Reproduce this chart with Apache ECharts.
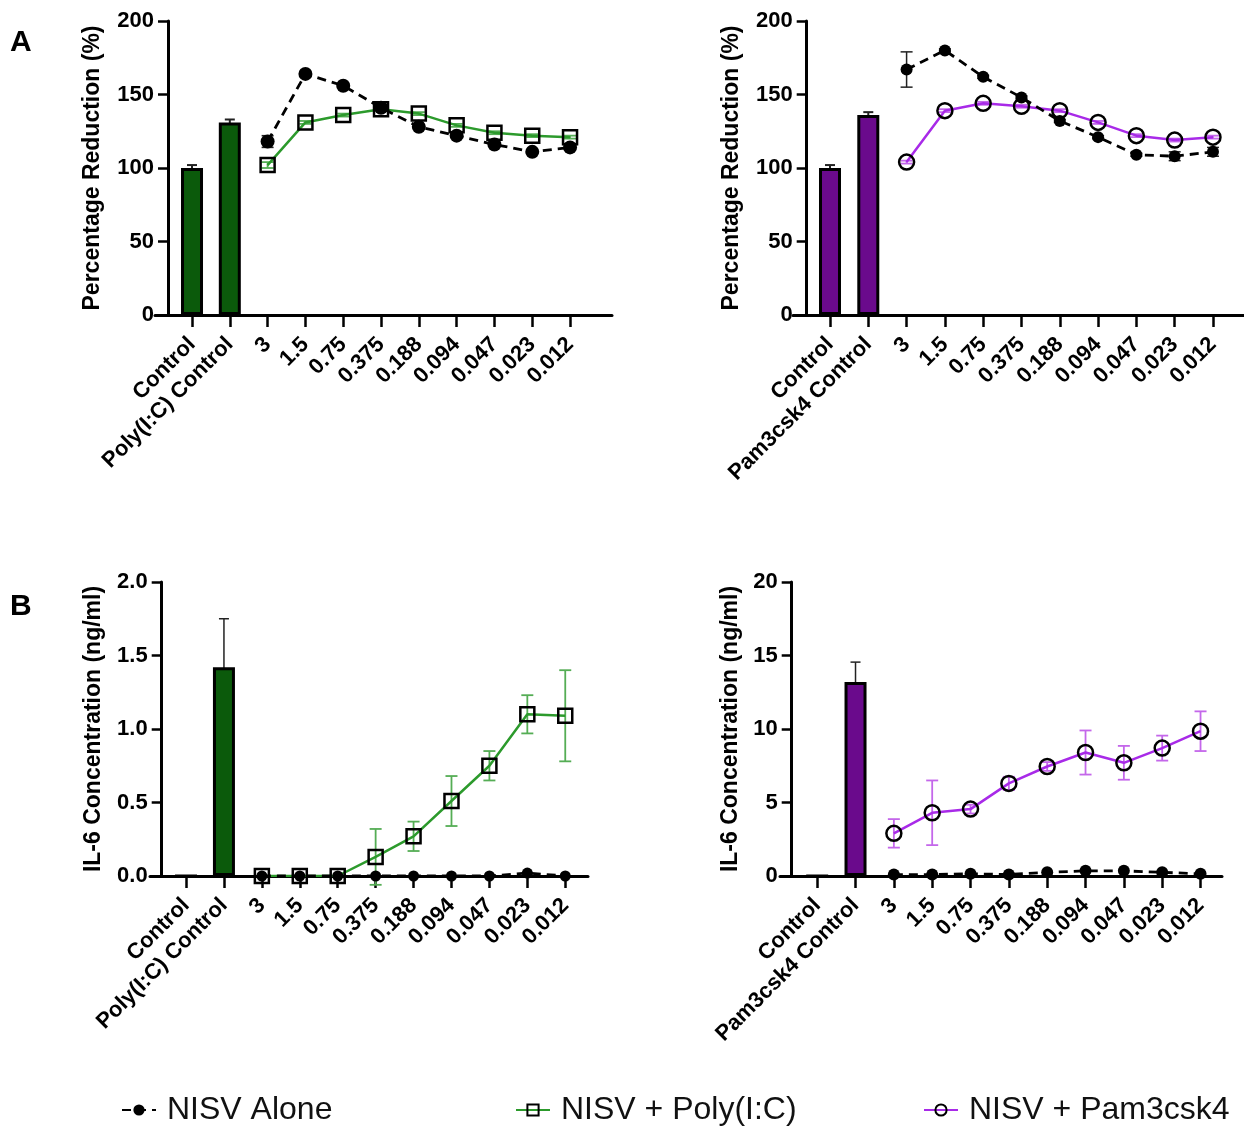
<!DOCTYPE html>
<html><head><meta charset="utf-8">
<script src="https://cdn.jsdelivr.net/npm/echarts@6/dist/echarts.min.js"></script>
<style>html,body{margin:0;padding:0;background:#fff}#c{width:1244px;height:1126px}</style>
</head><body><div id="c"></div>
<script>
// ---------- DATA ----------
const doseLabels = ['3','1.5','0.75','0.375','0.188','0.094','0.047','0.023','0.012'];
const polyCats = ['Control','Poly(I:C) Control'].concat(doseLabels);
const pamCats = ['Control','Pam3csk4 Control'].concat(doseLabels);

// Panel A left (Percentage Reduction, Poly(I:C))
const aPolyBars = [100, 131];
const aPolyBarsErr = [2, 2];
const aPolyAlone = [118, 164, 156, 141, 128, 122, 116, 111, 114];
const aPolyAloneErr = [4, 1, 1, 2, 1, 1, 1, 1, 1];
const aPolyMix = [102, 131, 136, 140, 137, 129, 124, 122, 121];
const aPolyMixErr = [2, 1, 1, 1, 1, 1, 1, 1, 1];

// Panel A right (Percentage Reduction, Pam3csk4)
const aPamBars = [100, 136];
const aPamBarsErr = [2, 2];
const aPamAlone = [167, 180, 162, 148, 132, 121, 109, 108, 111];
const aPamAloneErr = [12, 1, 1, 1, 1, 1, 1, 3, 3];
const aPamMix = [104, 139, 144, 142, 139, 131, 122, 119, 121];
const aPamMixErr = [1, 1, 1, 1, 1, 1, 1, 1, 1];

// Panel B left (IL-6, Poly(I:C))
const bPolyBars = [0, 1.42];
const bPolyBarsErr = [0, 0.33];
const bPolyAlone = [0, 0, 0, 0, 0, 0, 0, 0.02, 0];
const bPolyAloneErr = [0, 0, 0, 0, 0, 0, 0, 0, 0];
const bPolyMix = [0, 0, 0, 0.13, 0.27, 0.51, 0.75, 1.10, 1.09];
const bPolyMixErr = [0, 0, 0, 0.19, 0.10, 0.17, 0.10, 0.13, 0.31];

// Panel B right (IL-6, Pam3csk4)
const bPamBars = [0, 13.2];
const bPamBarsErr = [0, 1.35];
const bPamAlone = [0.1, 0.1, 0.15, 0.1, 0.25, 0.35, 0.35, 0.25, 0.15];
const bPamAloneErr = [0, 0, 0, 0, 0, 0, 0, 0, 0];
const bPamMix = [2.9, 4.3, 4.55, 6.3, 7.45, 8.4, 7.7, 8.7, 9.85];
const bPamMixErr = [0.97, 2.2, 0.3, 0.45, 0.3, 1.5, 1.15, 0.85, 1.35];

// ---------- STYLE ----------
const FONT = "'Liberation Sans', Arial, sans-serif";
const GREEN_BAR = '#0b5a0b', PURPLE_BAR = '#6a0a8c';
const GREEN_LINE = '#2c9a2c', MAGENTA_LINE = '#a82ae8';
const GREEN_ERR = '#55ad55', MAGENTA_ERR = '#c467ea';

const chart = echarts.init(document.getElementById('c'), null, {renderer: 'canvas'});
const grids = [], xAxes = [], yAxes = [], series = [];

function pts(vals) { return vals.map((v, i) => [i + 2, v]); }
function errPts(vals, errs, offset) {
  return vals.map((v, i) => [i + offset, v - errs[i], v + errs[i]]).filter((d, i) => errs[i] > 0);
}
function errSeries(gi, data, color, lw, cap) {
  return {
    type: 'custom', xAxisIndex: gi, yAxisIndex: gi, z: 1, silent: true,
    data: data,
    renderItem: function (params, api) {
      const x = api.value(0), lo = api.value(1), hi = api.value(2);
      const p1 = api.coord([x, hi]), p2 = api.coord([x, lo]);
      const st = {stroke: color, lineWidth: lw};
      return {type: 'group', children: [
        {type: 'line', shape: {x1: p1[0], y1: p1[1], x2: p2[0], y2: p2[1]}, style: st},
        {type: 'line', shape: {x1: p1[0] - cap, y1: p1[1], x2: p1[0] + cap, y2: p1[1]}, style: st},
        {type: 'line', shape: {x1: p2[0] - cap, y1: p2[1], x2: p2[0] + cap, y2: p2[1]}, style: st}
      ]};
    }
  };
}

function panel(cfg) {
  const gi = grids.length;
  grids.push({left: cfg.left, top: cfg.top, width: cfg.width, height: 294, containLabel: false});
  const ticks = cfg.cats.map((c, i) => i);
  xAxes.push({
    gridIndex: gi, type: 'value', min: cfg.xmin, max: cfg.xmax,
    axisLine: {show: true, onZero: false, lineStyle: {color: '#000', width: 3}},
    axisTick: {show: true, customValues: ticks, length: 12, lineStyle: {color: '#000', width: 2.5}},
    axisLabel: {show: true, customValues: ticks, rotate: 45, margin: 26,
      formatter: v => cfg.cats[Math.round(v)],
      fontFamily: FONT, fontWeight: 'bold', fontSize: 22, color: '#000'},
    splitLine: {show: false}
  });
  yAxes.push({
    gridIndex: gi, type: 'value', min: 0, max: cfg.ymax, interval: cfg.yint, offset: cfg.yoff,
    name: cfg.yname, nameLocation: 'middle', nameGap: cfg.nameGap,
    nameTextStyle: {fontFamily: FONT, fontWeight: 'bold', fontSize: 23, color: '#000'},
    axisLine: {show: true, onZero: false, lineStyle: {color: '#000', width: 3}},
    axisTick: {show: true, length: 10, lineStyle: {color: '#000', width: 2.5}},
    axisLabel: {margin: 14, fontFamily: FONT, fontWeight: 'bold', fontSize: 22, color: '#000',
      formatter: cfg.yfmt},
    splitLine: {show: false}
  });
  // bars
  series.push({
    type: 'bar', xAxisIndex: gi, yAxisIndex: gi, barWidth: 22, z: 2,
    data: cfg.bars.map((v, i) => [i, v]),
    itemStyle: {color: cfg.barColor, borderColor: '#000', borderWidth: 3}
  });
  series.push(errSeries(gi, errPts(cfg.bars, cfg.barsErr, 0), '#222', cfg.barErrW, 5));
  // mix series
  series.push(errSeries(gi, errPts(cfg.mix, cfg.mixErr, 2), cfg.errColor, 1.8, 6));
  series.push({
    type: 'line', name: cfg.mixName, xAxisIndex: gi, yAxisIndex: gi, z: 3,
    data: pts(cfg.mix), symbol: cfg.mixSymbol, symbolSize: cfg.mixSize,
    lineStyle: {color: cfg.lineColor, width: 2.5},
    itemStyle: {color: 'rgba(255,255,255,0)', borderColor: '#000', borderWidth: 2.5}
  });
  // alone series
  series.push(errSeries(gi, errPts(cfg.alone, cfg.aloneErr, 2), '#222', 1.5, 6));
  series.push({
    type: 'line', name: 'NISV Alone', xAxisIndex: gi, yAxisIndex: gi, z: 4,
    data: pts(cfg.alone), symbol: 'circle', symbolSize: cfg.aloneSize,
    lineStyle: {color: '#000', width: 2.8, type: [9, 6]},
    itemStyle: {color: '#000', borderWidth: 0}
  });
}

panel({left: 155, top: 21, width: 457, xmin: -0.979, xmax: 11.11, yoff: -13,
  cats: polyCats, ymax: 200, yint: 50, yname: 'Percentage Reduction (%)', nameGap: 64,
  bars: aPolyBars, barsErr: aPolyBarsErr, barColor: GREEN_BAR, barErrW: 2,
  mix: aPolyMix, mixErr: aPolyMixErr, mixName: 'NISV + Poly(I:C)', mixSymbol: 'rect', mixSize: 14,
  lineColor: GREEN_LINE, errColor: GREEN_ERR,
  alone: aPolyAlone, aloneErr: aPolyAloneErr, aloneSize: 14});

panel({left: 793, top: 21, width: 451, xmin: -0.966, xmax: 10.81, yoff: -13.7,
  cats: pamCats, ymax: 200, yint: 50, yname: 'Percentage Reduction (%)', nameGap: 64,
  bars: aPamBars, barsErr: aPamBarsErr, barColor: PURPLE_BAR, barErrW: 2,
  mix: aPamMix, mixErr: aPamMixErr, mixName: 'NISV + Pam3csk4', mixSymbol: 'circle', mixSize: 15,
  lineColor: MAGENTA_LINE, errColor: MAGENTA_ERR,
  alone: aPamAlone, aloneErr: aPamAloneErr, aloneSize: 12});

panel({left: 150, top: 582, width: 438, xmin: -0.95, xmax: 10.6, yoff: -11.7,
  cats: polyCats, ymax: 2, yint: 0.5, yname: 'IL-6 Concentration (ng/ml)', nameGap: 57,
  yfmt: v => v.toFixed(1),
  bars: bPolyBars, barsErr: bPolyBarsErr, barColor: GREEN_BAR, barErrW: 1.5,
  mix: bPolyMix, mixErr: bPolyMixErr, mixName: 'NISV + Poly(I:C)', mixSymbol: 'rect', mixSize: 14,
  lineColor: GREEN_LINE, errColor: GREEN_ERR,
  alone: bPolyAlone, aloneErr: bPolyAloneErr, aloneSize: 11});

panel({left: 780, top: 582, width: 442, xmin: -0.97, xmax: 10.56, yoff: -11.7,
  cats: pamCats, ymax: 20, yint: 5, yname: 'IL-6 Concentration (ng/ml)', nameGap: 50,
  bars: bPamBars, barsErr: bPamBarsErr, barColor: PURPLE_BAR, barErrW: 1.5,
  mix: bPamMix, mixErr: bPamMixErr, mixName: 'NISV + Pam3csk4', mixSymbol: 'circle', mixSize: 15,
  lineColor: MAGENTA_LINE, errColor: MAGENTA_ERR,
  alone: bPamAlone, aloneErr: bPamAloneErr, aloneSize: 12});

const legendText = {fontFamily: FONT, fontSize: 32, color: '#111', padding: [0, 0, 0, 6]};
const option = {
  animation: false,
  backgroundColor: '#fff',
  grid: grids, xAxis: xAxes, yAxis: yAxes, series: series,
  legend: [
    {data: ['NISV Alone'], left: 116, top: 1089, itemWidth: 34, itemHeight: 14, textStyle: legendText, selectedMode: false},
    {data: ['NISV + Poly(I:C)'], left: 510, top: 1089, itemWidth: 34, itemHeight: 14, textStyle: legendText, selectedMode: false},
    {data: ['NISV + Pam3csk4'], left: 918, top: 1089, itemWidth: 34, itemHeight: 14, textStyle: legendText, selectedMode: false}
  ],
  graphic: [
    {type: 'text', left: 10, top: 28, style: {text: 'A', font: "bold 30px " + FONT, fill: '#000'}},
    {type: 'text', left: 10, top: 592, style: {text: 'B', font: "bold 30px " + FONT, fill: '#000'}}
  ]
};
chart.setOption(option);
</script></body></html>
